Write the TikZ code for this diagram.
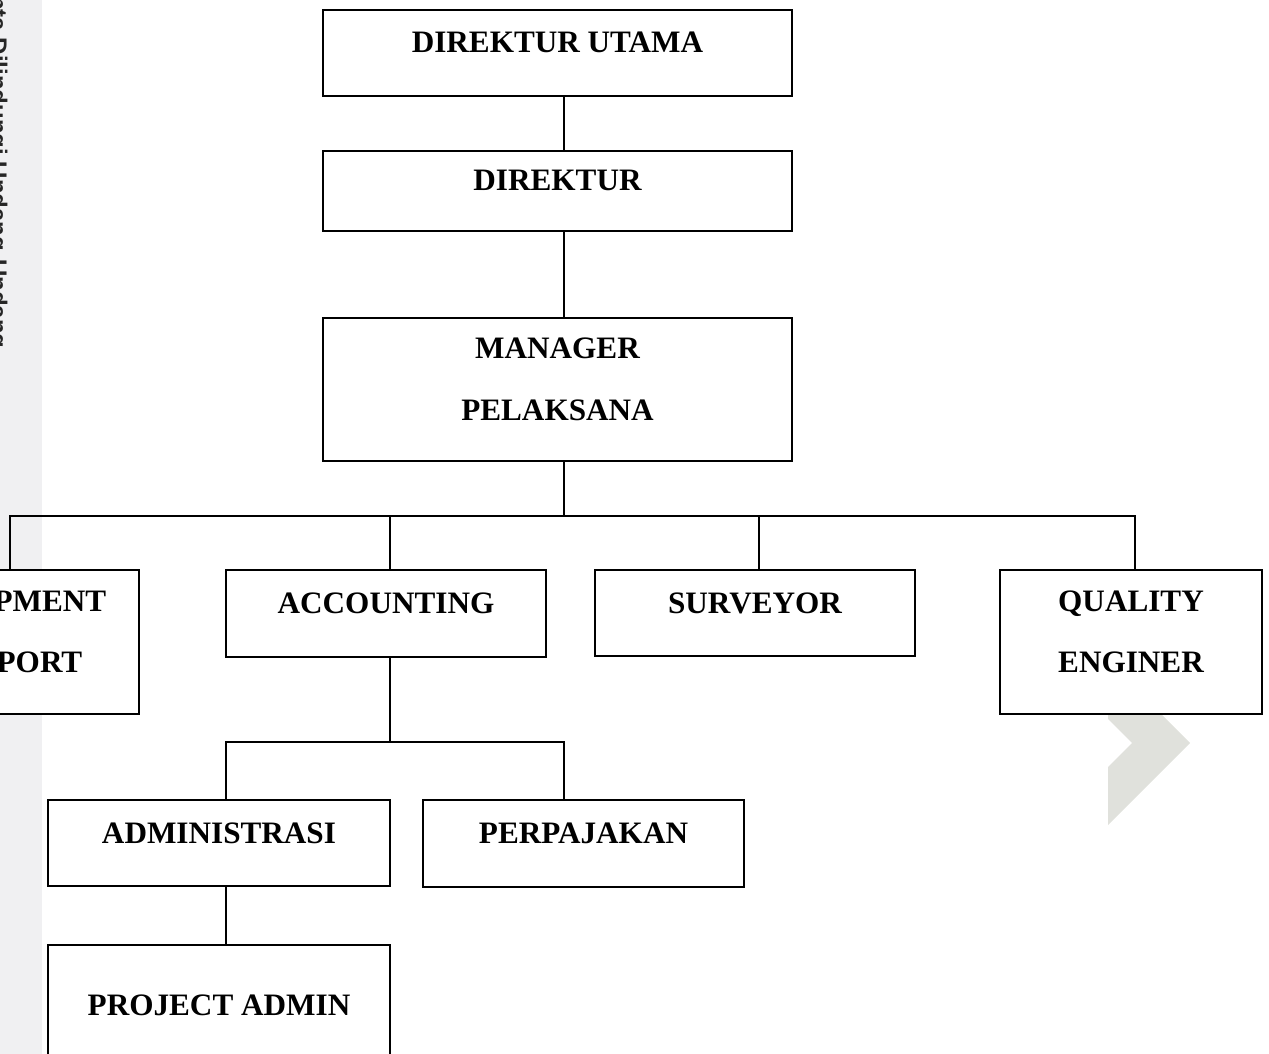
\documentclass[tikz,border=0pt]{standalone}
\usepackage{fontspec}
\setmainfont{Liberation Serif}
\newfontfamily\wmfont{Liberation Sans}

\definecolor{stripgray}{HTML}{F0F0F2}
\definecolor{chevgray}{HTML}{E0E1DC}

\tikzset{
  orgbox/.style={draw, line width=1pt, fill=white, inner sep=0pt, align=center,
    font=\bfseries\fontsize{15.6}{30.75}\selectfont, text height=6pt, text depth=6pt},
  twoline/.style={text height=30.5pt, text depth=0pt},
  link/.style={line width=1pt},
}

\begin{document}
\begin{tikzpicture}[x=0.5pt, y=-0.5pt]
	\useasboundingbox (0, 0) rectangle (1269, 1054);
	\clip (0, 0) rectangle (1269, 1054);

	\fill[stripgray] (0, 0) rectangle (42, 1054);
	\node[rotate=-90, anchor=base west, inner sep=0pt, text=black!85, font=\wmfont\bfseries\fontsize{12}{14}\selectfont] (mark) at (-10, -80) {Hak Cipta Dilindungi Undang-Undang};
	\fill[chevgray] (1108, 661) -- (1190, 743) -- (1108, 825) -- (1108, 767) -- (1132, 743) -- (1108, 719) -- cycle;

	\coordinate (trunk) at (564, 0);
	\coordinate (bus) at (0, 516);
	\coordinate (sub) at (0, 742);

	\node[orgbox, minimum width=234.5pt, minimum height=43pt] (dirut) at (557.5, 53) {DIREKTUR UTAMA};
	\node[orgbox, minimum width=234.5pt, minimum height=40pt] (dir) at (557.5, 191) {DIREKTUR};
	\node[orgbox, twoline, minimum width=234.5pt, minimum height=71.5pt] (mgr) at (557.5, 389.5) {MANAGER\\PELAKSANA};

	\node[orgbox, twoline, minimum width=129pt, minimum height=72pt] (eqp) at (10, 642) {EQUIPMENT\\SUPPORT};
	\node[orgbox, minimum width=160pt, minimum height=43.5pt] (acc) at (386, 613.5) {ACCOUNTING};
	\node[orgbox, minimum width=160pt, minimum height=43pt] (srv) at (755, 613) {SURVEYOR};
	\node[orgbox, twoline, minimum width=131pt, minimum height=72pt] (qe) at (1131, 642) {QUALITY\\ENGINER};

	\node[orgbox, minimum width=171pt, minimum height=43pt] (adm) at (219, 843) {ADMINISTRASI};
	\node[orgbox, minimum width=160.5pt, minimum height=43.5pt] (paj) at (583.5, 843.5) {PERPAJAKAN};
	\node[orgbox, minimum width=171pt, minimum height=70pt] (pa) at (219, 1015) {PROJECT ADMIN};

	\draw[link] (dirut.south -| trunk) -- (dir.north -| trunk);
	\draw[link] (dir.south -| trunk) -- (mgr.north -| trunk);
	\draw[link] (mgr.south -| trunk) -- (bus -| trunk);

	\draw[link] (eqp.north) -- (eqp.north |- bus) -- ([xshift=2pt]qe.north |- bus) -- ([xshift=2pt]qe.north);
	\draw[link] ([xshift=2pt]acc.north |- bus) -- ([xshift=2pt]acc.north);
	\draw[link] ([xshift=2pt]srv.north |- bus) -- ([xshift=2pt]srv.north);

	\draw[link] ([xshift=2pt]acc.south) -- ([xshift=2pt]acc.south |- sub);
	\draw[link] ([xshift=3.5pt]adm.north) -- ([xshift=3.5pt]adm.north |- sub) -- (sub -| trunk) -- (paj.north -| trunk);
	\draw[link] ([xshift=3.5pt]adm.south) -- ([xshift=3.5pt]pa.north);
\end{tikzpicture}
\end{document}
